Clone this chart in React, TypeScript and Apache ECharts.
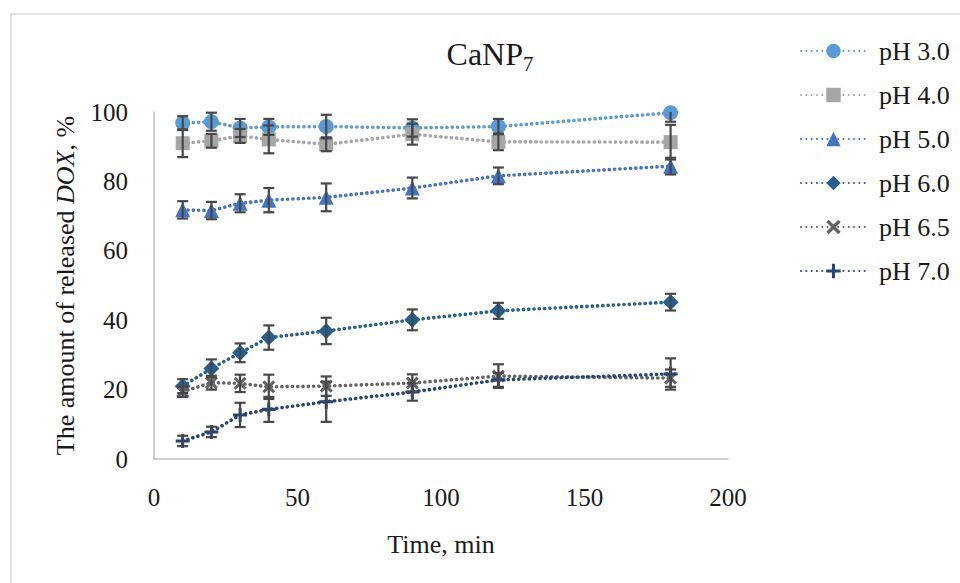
import React, { useEffect, useRef } from "react";
import * as echarts from "echarts";

const times = [10, 20, 30, 40, 60, 90, 120, 180];
const seriesNames = ["pH 3.0", "pH 4.0", "pH 5.0", "pH 6.0", "pH 6.5", "pH 7.0"];

const ph30 = [96.8, 97.2, 95.4, 95.7, 95.8, 95.4, 95.8, 99.8];
const ph40 = [91.0, 91.7, 93.1, 92.1, 90.7, 93.6, 91.4, 91.3];
const ph50 = [71.8, 71.6, 73.7, 74.6, 75.4, 78.1, 81.6, 84.4];
const ph60 = [21.0, 26.1, 30.6, 35.0, 36.9, 40.1, 42.7, 45.2];
const ph65 = [19.4, 22.0, 21.8, 20.8, 21.0, 21.9, 23.9, 23.3];
const ph70 = [5.2, 7.8, 12.7, 14.3, 16.5, 19.3, 22.8, 24.5];

const err30 = [2.0, 2.6, 2.6, 2.3, 3.4, 2.5, 2.2, 2.6];
const err40 = [4.0, 2.0, 2.0, 4.0, 2.0, 3.0, 2.4, 5.0];
const err50 = [2.5, 2.5, 2.6, 3.5, 4.0, 3.0, 2.4, 2.4];
const err60 = [2.0, 2.6, 2.7, 3.5, 3.8, 3.0, 2.3, 2.4];
const err65 = [1.5, 2.0, 2.5, 3.5, 2.8, 2.5, 3.4, 2.5];
const err70 = [1.5, 1.5, 3.5, 3.6, 5.8, 2.5, 2.0, 4.5];

const xTicks = { min: 0, max: 200, interval: 50 };
const yTicks = { min: 0, max: 100, interval: 20 };

const values = [ph30, ph40, ph50, ph60, ph65, ph70];
const errors = [err30, err40, err50, err60, err65, err70];
const colors = ["#5B9BD5", "#A5A5A5", "#4472C4", "#255E91", "#636363", "#264478"];
const symbols = [
  "circle",
  "rect",
  "triangle",
  "diamond",
  "path://M2,0 L6,4 L10,0 L12,2 L8,6 L12,10 L10,12 L6,8 L2,12 L0,10 L4,6 L0,2 Z",
  "path://M4.7,0 H7.3 V4.7 H12 V7.3 H7.3 V12 H4.7 V7.3 H0 V4.7 H4.7 Z",
];
const symbolSizes = [15, 14, 15, 16, 13, 14];

const FONT = "Liberation Serif";
const TEXT = "#1a1a1a";

export default function App() {
  const ref = useRef<HTMLDivElement>(null);

  useEffect(() => {
    if (!ref.current) return;
    const chart = echarts.init(ref.current, undefined, { renderer: "svg" });

    const errorRender = (params: any, api: any) => {
      const x = api.value(0);
      const y = api.value(1);
      const e = api.value(2);
      const hiV = Math.min(y + e, yTicks.max);
      const loV = Math.max(y - e, yTicks.min);
      const top = api.coord([x, hiV]);
      const bot = api.coord([x, loV]);
      const half = 5.5;
      const style = { stroke: "#474747", lineWidth: 2.2 };
      const children: any[] = [
        { type: "line", shape: { x1: top[0], y1: top[1], x2: bot[0], y2: bot[1] }, style },
        { type: "line", shape: { x1: bot[0] - half, y1: bot[1], x2: bot[0] + half, y2: bot[1] }, style },
      ];
      if (y + e <= yTicks.max) {
        children.push({ type: "line", shape: { x1: top[0] - half, y1: top[1], x2: top[0] + half, y2: top[1] }, style });
      }
      return { type: "group", children };
    };

    const lineSeries = seriesNames.map((name, k) => ({
      name,
      type: "line",
      data: times.map((t, i) => [t, values[k][i]]),
      symbol: symbols[k],
      symbolSize: symbolSizes[k],
      itemStyle: { color: colors[k] },
      lineStyle: { color: colors[k], width: 3.6, type: [0.1, 5.2], cap: "round" },
      z: 2,
    }));

    const errSeries = seriesNames.map((name, k) => ({
      name: "err " + name,
      type: "custom",
      renderItem: errorRender,
      encode: { x: 0, y: 1 },
      data: times.map((t, i) => [t, values[k][i], errors[k][i]]),
      z: 3,
      silent: true,
    }));

    chart.setOption({
      animation: false,
      backgroundColor: "#ffffff",
      textStyle: { fontFamily: FONT },
      grid: { left: 154, right: 232, top: 112, bottom: 124 },
      graphic: [
        {
          type: "rect",
          shape: { x: 11, y: 14, width: 960, height: 600 },
          style: { fill: "none", stroke: "#d9d9d9", lineWidth: 1.5 },
          silent: true,
        },
        {
          type: "text",
          x: 490,
          y: 54,
          style: {
            text: "{a|CaNP}{b|7}",
            align: "center",
            verticalAlign: "middle",
            fill: TEXT,
            rich: {
              a: { fontFamily: FONT, fontSize: 32, fill: TEXT },
              b: { fontFamily: FONT, fontSize: 21, fill: TEXT, padding: [20, 0, 0, 0] },
            },
          },
        },
      ],
      legend: {
        data: seriesNames,
        orient: "vertical",
        left: 795,
        top: 33,
        itemWidth: 65,
        itemHeight: 18,
        itemGap: 18,
        textStyle: { fontFamily: FONT, fontSize: 26, color: TEXT, lineHeight: 26, padding: [0, 0, 0, 8] },
      },
      xAxis: {
        type: "value",
        min: xTicks.min,
        max: xTicks.max,
        interval: xTicks.interval,
        name: "Time, min",
        nameLocation: "middle",
        nameGap: 72,
        nameTextStyle: { fontFamily: FONT, fontSize: 26, color: TEXT },
        axisLine: { show: true, lineStyle: { color: "#bfbfbf", width: 1.5 } },
        axisTick: { show: false },
        splitLine: { show: false },
        axisLabel: { fontFamily: FONT, fontSize: 25, color: TEXT, margin: 26 },
      },
      yAxis: {
        type: "value",
        min: yTicks.min,
        max: yTicks.max,
        interval: yTicks.interval,
        name: "The amount of released {i|DOX}, %",
        nameLocation: "middle",
        nameGap: 76,
        nameTextStyle: {
          fontFamily: FONT,
          fontSize: 26,
          color: TEXT,
          rich: { i: { fontFamily: FONT, fontSize: 26, fontStyle: "italic", color: TEXT } },
        },
        axisLine: { show: true, lineStyle: { color: "#bfbfbf", width: 1.5 } },
        axisTick: { show: false },
        splitLine: { show: false },
        axisLabel: { fontFamily: FONT, fontSize: 25, color: TEXT, margin: 26 },
      },
      series: [...lineSeries, ...errSeries],
    });

    return () => chart.dispose();
  }, []);

  return (
    <div
      ref={ref}
      style={{ position: "fixed", left: 0, top: 0, width: 960, height: 583, background: "#fff" }}
    />
  );
}
